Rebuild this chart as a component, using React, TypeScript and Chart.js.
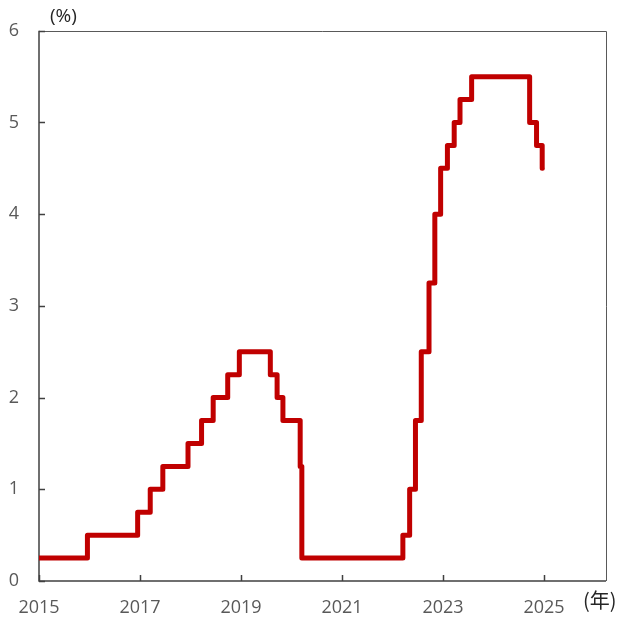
import { useEffect, useRef } from "react";
import { Chart, registerables } from "chart.js";

Chart.register(...registerables);

// Policy rate (upper bound of the target range), %, with the date each level took effect.
// The last entry marks the end of the series.
const changeDates = [
  "2015-01-01", "2015-12-17", "2016-12-15", "2017-03-16", "2017-06-15",
  "2017-12-14", "2018-03-22", "2018-06-14", "2018-09-27", "2018-12-20",
  "2019-08-01", "2019-09-19", "2019-10-31", "2020-03-04", "2020-03-16",
  "2022-03-17", "2022-05-05", "2022-06-16", "2022-07-28", "2022-09-22",
  "2022-11-03", "2022-12-15", "2023-02-02", "2023-03-23", "2023-05-04",
  "2023-07-27", "2024-09-19", "2024-11-08", "2024-12-19", "2024-12-20",
];
const rates = [
  0.25, 0.5, 0.75, 1.0, 1.25,
  1.5, 1.75, 2.0, 2.25, 2.5,
  2.25, 2.0, 1.75, 1.25, 0.25,
  0.5, 1.0, 1.75, 2.5, 3.25,
  4.0, 4.5, 4.75, 5.0, 5.25,
  5.5, 5.0, 4.75, 4.5, 4.5,
];

const xTickYears = [2015, 2017, 2019, 2021, 2023, 2025];
const yTickValues = [0, 1, 2, 3, 4, 5, 6];
const xMin = 2015;
const xMax = 2026.228;
const yUnitLabel = "(%)";
const xUnitLabel = "(年)";

const LINE_COLOR = "#C00000";
const AXIS_COLOR = "#404040";
const FRAME_COLOR = "#595959";
const TICK_TEXT = "#595959";

// Convert an ISO date to a fractional year so a linear x scale can place it.
function toYear(iso: string): number {
  const [y, m, d] = iso.split("-").map(Number);
  const start = Date.UTC(y, 0, 1);
  const end = Date.UTC(y + 1, 0, 1);
  return y + (Date.UTC(y, m - 1, d) - start) / (end - start);
}

const framePlugin = {
  id: "frameAndUnits",
  beforeDatasetsDraw(chart: any) {
    const { ctx, chartArea } = chart;
    const { left, right, top, bottom } = chartArea;
    const xs = chart.scales.x;
    const ys = chart.scales.y;
    ctx.save();
    // outer box: top and right edges
    ctx.strokeStyle = FRAME_COLOR;
    ctx.lineWidth = 1;
    ctx.beginPath();
    ctx.moveTo(left, Math.round(top) + 0.5);
    ctx.lineTo(Math.round(right) + 0.5, Math.round(top) + 0.5);
    ctx.lineTo(Math.round(right) + 0.5, bottom);
    ctx.stroke();
    // axes
    ctx.strokeStyle = AXIS_COLOR;
    ctx.lineWidth = 1.5;
    ctx.beginPath();
    ctx.moveTo(left, top);
    ctx.lineTo(left, bottom);
    ctx.lineTo(right, bottom);
    ctx.stroke();
    // inward tick marks
    ctx.lineWidth = 1.5;
    ctx.beginPath();
    for (const v of yTickValues) {
      const py = Math.round(ys.getPixelForValue(v)) + 0.5;
      ctx.moveTo(left, py);
      ctx.lineTo(left + 6, py);
    }
    for (const v of xTickYears) {
      const px = Math.round(xs.getPixelForValue(v)) + 0.5;
      ctx.moveTo(px, bottom);
      ctx.lineTo(px, bottom - 6);
    }
    ctx.stroke();
    ctx.restore();
  },
  afterDraw(chart: any) {
    const { ctx, chartArea } = chart;
    ctx.save();
    ctx.fillStyle = "#262626";
    ctx.textBaseline = "middle";
    ctx.textAlign = "left";
    ctx.font = "19px 'Open Sans', sans-serif";
    ctx.fillText(yUnitLabel, chartArea.left + 11, chartArea.top - 14);
    ctx.font = "20px 'Noto Sans CJK JP', sans-serif";
    ctx.fillText(xUnitLabel, chartArea.right - 23, chartArea.bottom + 19);
    ctx.restore();
  },
};

export default function App() {
  const canvasRef = useRef<HTMLCanvasElement | null>(null);

  useEffect(() => {
    const canvas = canvasRef.current;
    if (!canvas) return;
    const points = changeDates.map((d, i) => ({ x: toYear(d), y: rates[i] }));
    const chart = new Chart(canvas, {
      type: "line",
      data: {
        datasets: [
          {
            data: points,
            borderColor: LINE_COLOR,
            borderWidth: 5,
            stepped: "before",
            pointRadius: 0,
            borderJoinStyle: "round",
            borderCapStyle: "round",
            fill: false,
          },
        ],
      },
      options: {
        animation: false,
        responsive: false,
        devicePixelRatio: 1,
        layout: { padding: { top: 29, right: 11, left: 0, bottom: 0 } },
        plugins: {
          legend: { display: false },
          tooltip: { enabled: false },
        },
        scales: {
          x: {
            type: "linear",
            min: xMin,
            max: xMax,
            grid: { display: false, drawTicks: false },
            border: { display: false },
            afterBuildTicks: (scale: any) => {
              scale.ticks = xTickYears.map((v) => ({ value: v }));
            },
            afterFit: (scale: any) => {
              scale.height = 38;
            },
            ticks: {
              autoSkip: false,
              maxRotation: 0,
              padding: 16,
              color: TICK_TEXT,
              font: { family: "'Open Sans', sans-serif", size: 18 },
              callback: (v: any) => String(v),
            },
          },
          y: {
            min: 0,
            max: 6,
            grid: { display: false, drawTicks: false },
            border: { display: false },
            afterBuildTicks: (scale: any) => {
              scale.ticks = yTickValues.map((v) => ({ value: v }));
            },
            afterFit: (scale: any) => {
              scale.width = 39;
            },
            ticks: {
              padding: 20,
              color: TICK_TEXT,
              font: { family: "'Open Sans', sans-serif", size: 18 },
              callback: (v: any) => String(v),
            },
          },
        },
      },
      plugins: [framePlugin],
    });
    return () => chart.destroy();
  }, []);

  return (
    <div style={{ position: "fixed", left: 0, top: 0, width: 617, height: 619, background: "#fff" }}>
      <canvas ref={canvasRef} width={617} height={619} style={{ display: "block" }} />
    </div>
  );
}
